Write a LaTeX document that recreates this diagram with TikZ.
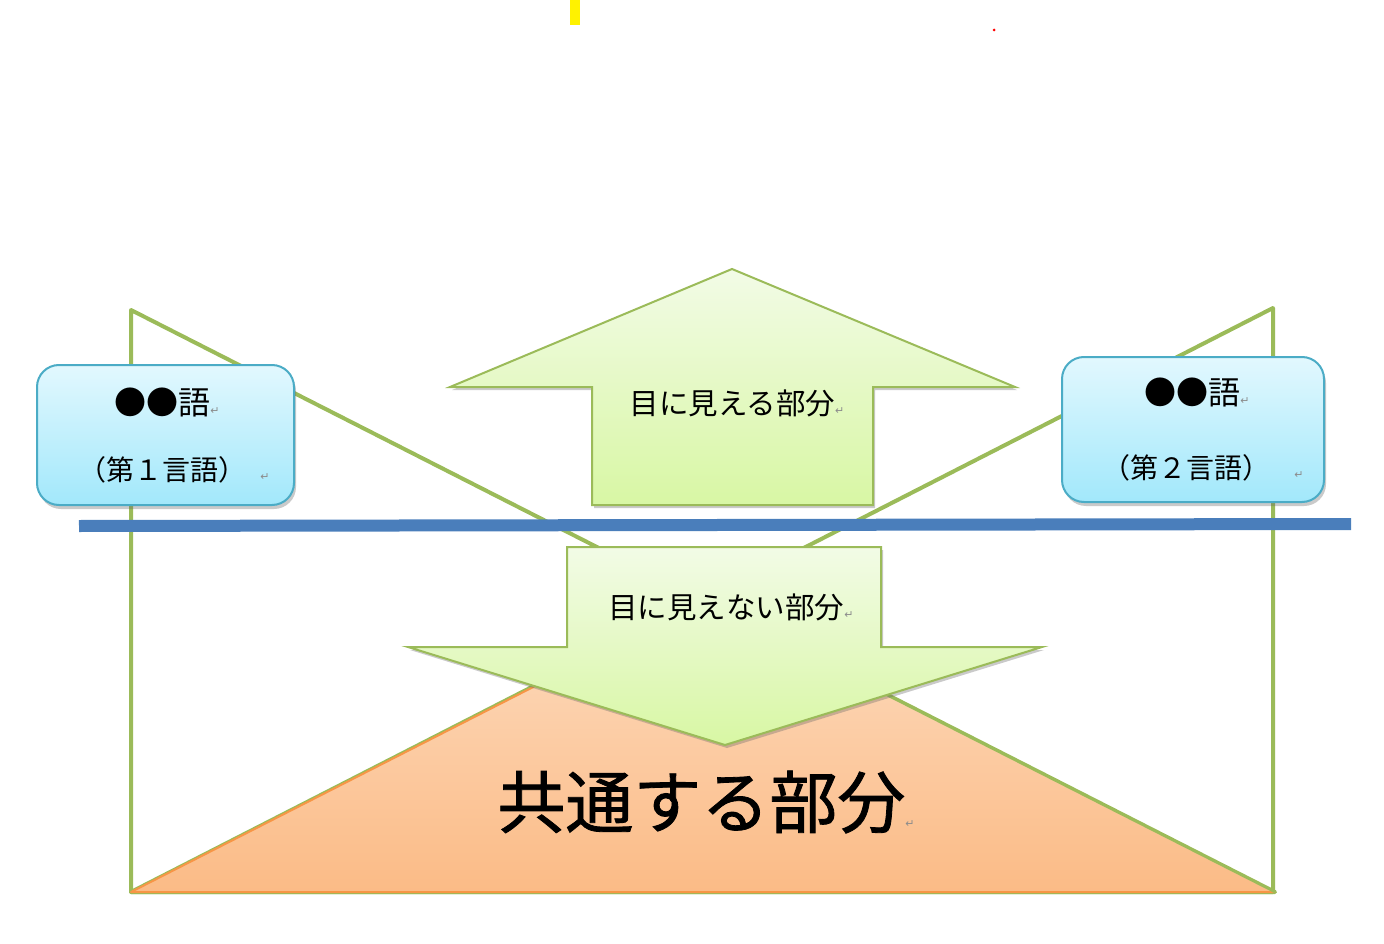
\documentclass[tikz,border=0pt]{standalone}
\usepackage{fontspec}
\setmainfont{Noto Sans CJK JP}
\newfontfamily\retfont{DejaVu Sans}
\newfontfamily\heavyfont[FakeBold=1.2]{Noto Sans CJK JP}
\usetikzlibrary{shadows}
\definecolor{lgreen}{HTML}{9BBB59}
\definecolor{agtop}{HTML}{F2FBE6}
\definecolor{agbot}{HTML}{D8F7A4}
\definecolor{bxtop}{HTML}{E2F8FE}
\definecolor{bxbot}{HTML}{A2E8FB}
\definecolor{bxline}{HTML}{4BACC6}
\definecolor{ortop}{HTML}{FDDCC0}
\definecolor{orbot}{HTML}{FBBB86}
\definecolor{orline}{HTML}{F79646}
\definecolor{bline}{HTML}{4A7EBB}
\definecolor{retgray}{HTML}{8C8C8C}
\newcommand{\ret}{{\retfont\fontsize{11}{11}\selectfont\color{retgray}↵}}
\tikzset{
  tri/.style={draw=lgreen, line width=4pt, line join=round},
  bigarrow/.style={draw=lgreen, line width=2pt, line join=miter, top color=agtop, bottom color=agbot,
    drop shadow={shadow xshift=2pt, shadow yshift=-3pt, opacity=0.35, fill=black!60}},
  langbox/.style={draw=bxline, line width=2pt, rounded corners=22pt, top color=bxtop, bottom color=bxbot,
    drop shadow={shadow xshift=2pt, shadow yshift=-4pt, opacity=0.35, fill=black!60}, inner sep=0pt},
  lbl/.style={inner sep=0pt, text=black},
}
\begin{document}
\begin{tikzpicture}[x=1pt,y=-1pt]
\useasboundingbox (0,0) rectangle (1384,944);
% top marks
\fill[yellow] (570,0) rectangle (580,25);
\fill[red] (994,30) circle (1.5);
% green triangles
\draw[tri] (1273,308) -- (1273,892) -- (131,892) -- cycle;
\draw[tri] (131,310) -- (131,892) -- (1275,892) -- cycle;
% orange triangle
\fill[top color=ortop, bottom color=orbot] (131,892) -- (702,601) -- (1275,892) -- cycle;
\draw[orline, line width=2pt, line join=round] (702,601) -- (131,892) -- (1275,892);
\draw[lgreen, line width=2.5pt] (702,601) -- (1275,892);
% blue line
\draw[bline, line width=12pt] (79,526) -- (1351,524);
% up arrow
\path[bigarrow] (732,269) -- (1015,387) -- (873,387) -- (873,505) -- (592,505) -- (592,387) -- (450,387) -- cycle;
% down arrow
\path[bigarrow] (567,547) -- (881,547) -- (881,647) -- (1042,647) -- (725,745) -- (408,647) -- (567,647) -- cycle;
% language boxes
\node[langbox, minimum width=257pt, minimum height=140pt] (box1) at (165.5,435) {};
\node[langbox, minimum width=262pt, minimum height=145pt] (box2) at (1193,429.5) {};
% texts
\node[lbl, font=\fontsize{32}{32}\selectfont] (t1a) at (167,402) {●●語\ret};
\node[lbl, font=\fontsize{28}{28}\selectfont] (t1b) at (174,470) {（第１言語）\hspace{14pt}\ret};
\node[lbl, font=\fontsize{32}{32}\selectfont] (t2a) at (1197,392) {●●語\ret};
\node[lbl, font=\fontsize{28}{28}\selectfont] (t2b) at (1203,468) {（第２言語）\hspace{24pt}\ret};
\node[lbl, font=\fontsize{29.5}{30}\selectfont] (up) at (737,403) {目に見える部分\ret};
\node[lbl, font=\fontsize{29.5}{30}\selectfont] (down) at (731,607) {目に見えない部分\ret};
\node[lbl, font=\fontsize{68}{68}\selectfont\heavyfont] (common) at (706,802) {共通する部分\ret};
\end{tikzpicture}
\end{document}
